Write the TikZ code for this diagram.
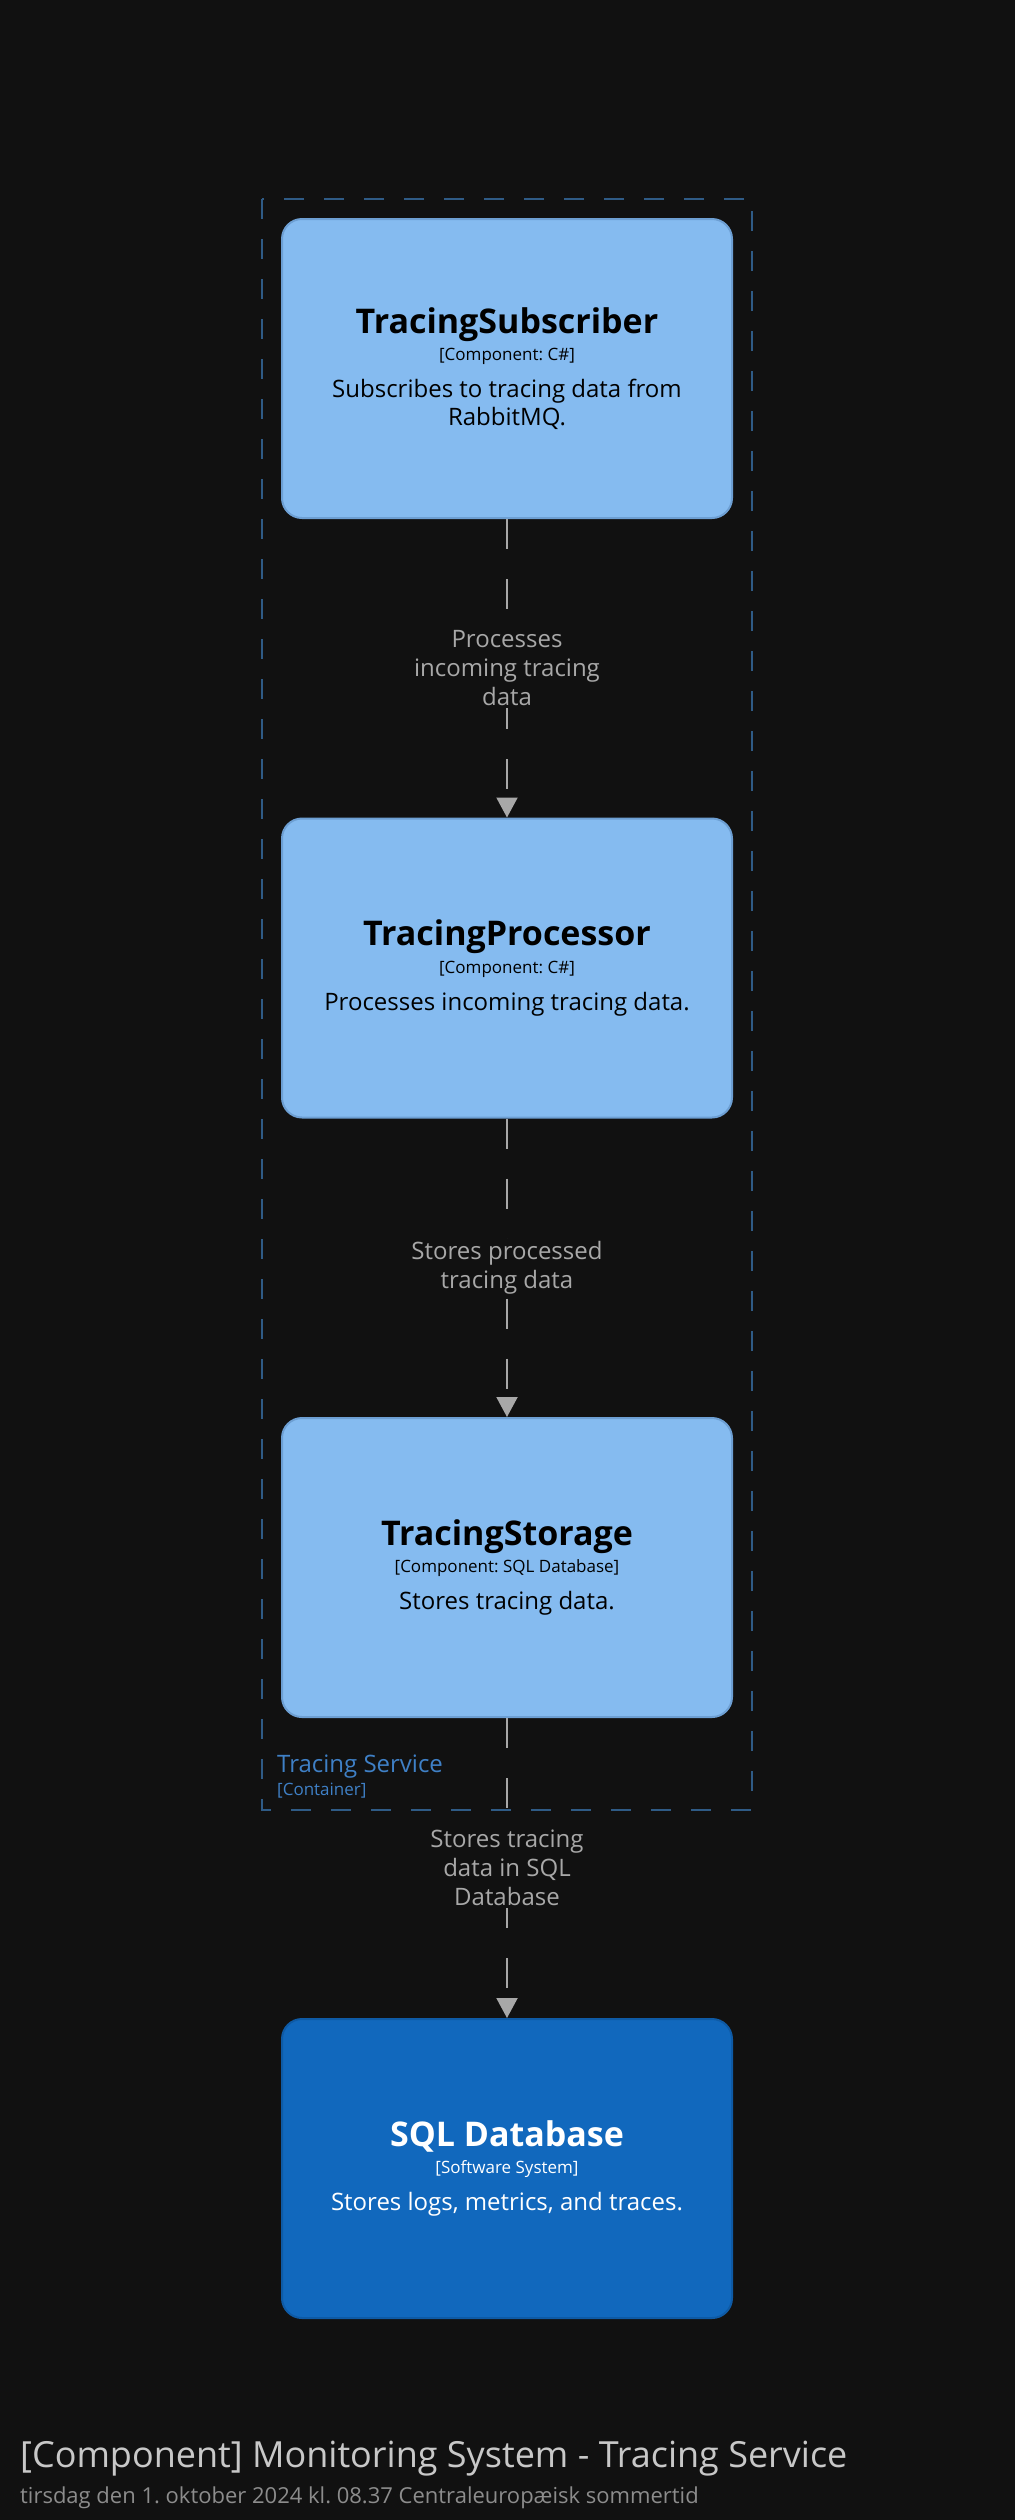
\documentclass[tikz,border=0pt]{standalone}
\usepackage{fontspec}
\setmainfont{Open Sans}
\usetikzlibrary{arrows.meta}
\frenchspacing

\definecolor{bgcol}{HTML}{111111}
\definecolor{compfill}{HTML}{85BBF0}
\definecolor{compline}{HTML}{6D9FD3}
\definecolor{sysfill}{HTML}{1168BD}
\definecolor{sysline}{HTML}{0E5AA5}
\definecolor{bndline}{HTML}{2F5B86}
\definecolor{bndtext}{HTML}{3F80C6}
\definecolor{relcol}{HTML}{A8A8A8}
\definecolor{titlecol}{HTML}{C8C8C8}
\definecolor{datecol}{HTML}{8C8C8C}

\newcommand{\boxtitle}[1]{{\fontsize{34}{34}\selectfont\bfseries #1\par}}
\newcommand{\boxmeta}[1]{{\fontsize{17}{27.5}\selectfont #1\par}\vspace{9pt}}

\begin{document}
\begin{tikzpicture}[x=1pt,y=-1pt,
	comp/.style={draw=compline, fill=compfill, line width=2pt, rounded corners=20pt,
		minimum width=450pt, minimum height=299pt, text width=430pt, align=flush center,
		inner sep=0pt, text=black, font=\fontsize{24}{28}\selectfont},
	sys/.style={comp, draw=sysline, fill=sysfill, text=white},
	rel/.style={draw=relcol, line width=2pt, dash pattern=on 30pt off 30pt,
		-{Triangle[width=21pt,length=20pt]}},
	lbl/.style={fill=bgcol, text=relcol, align=center, inner sep=2pt,
		font=\fontsize{24}{29}\selectfont}]
	% background and boundary
	\fill[bgcol] (0,0) rectangle (1015,2520);
	\draw[bndline, line width=2pt, dash pattern=on 20pt off 20pt] (262,199) rectangle (752,1810);
	\node[anchor=base west, inner sep=0pt, text=bndtext, font=\fontsize{24}{24}\selectfont] (svcname) at (277,1772) {Tracing Service};
	\node[anchor=base west, inner sep=0pt, text=bndtext, font=\fontsize{17}{17}\selectfont] (svctype) at (277,1795) {[Container]};

	% elements
	\node[comp] (subscriber) at (507,368.5) {\boxtitle{TracingSubscriber}\boxmeta{[Component: C\#]}Subscribes to tracing data from\\RabbitMQ.};
	\node[comp] (processor) at (507,968) {\boxtitle{TracingProcessor}\boxmeta{[Component: C\#]}Processes incoming tracing data.};
	\node[comp] (storage) at (507,1567.5) {\boxtitle{TracingStorage}\boxmeta{[Component: SQL Database]}Stores tracing data.};
	\node[sys] (sqldb) at (507,2168.5) {\boxtitle{SQL Database}\boxmeta{[Software System]}Stores logs, metrics, and traces.};

	% relationships
	\draw[rel] (subscriber) -- (processor) node[lbl,midway] (rel1) {Processes\\incoming tracing\\data};
	\draw[rel] (processor) -- (storage) node[lbl,midway] (rel2) {Stores processed\\tracing data};
	\draw[rel] (storage) -- (sqldb) node[lbl,midway] (rel3) {Stores tracing\\data in SQL\\Database};

	% diagram title
	\node[anchor=base west, inner sep=0pt, text=titlecol, font=\fontsize{36}{36}\selectfont] (diagtitle) at (20,2467) {[Component] Monitoring System - Tracing Service};
	\node[anchor=base west, inner sep=0pt, text=datecol, font=\fontsize{22}{22}\selectfont] (diagdate) at (20,2503) {tirsdag den 1. oktober 2024 kl. 08.37 Centraleuropæisk sommertid};
\end{tikzpicture}
\end{document}
